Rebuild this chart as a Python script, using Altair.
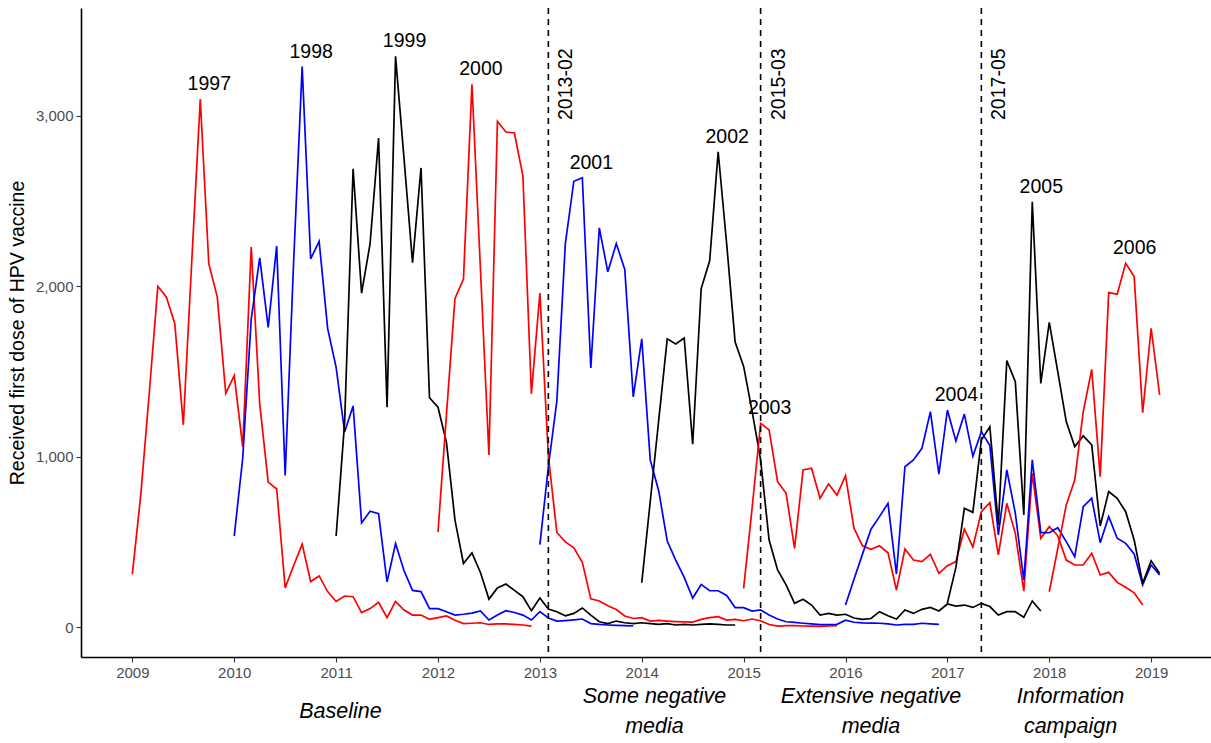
import altair as alt
import pandas as pd

# ---------------- data ----------------
cohorts = ["1997", "1998", "1999", "2000", "2001", "2002", "2003", "2004", "2005", "2006"]
start_years = [2009, 2010, 2011, 2012, 2013, 2014, 2015, 2016, 2017, 2018]
line_colors = ["#FF0000", "#0000FF", "#000000", "#FF0000", "#0000FF",
               "#000000", "#FF0000", "#0000FF", "#000000", "#FF0000"]

v1997 = [311, 780, 1380, 2000, 1938, 1781, 1187, 2150, 3100, 2133, 1938, 1372, 1476, 1057, 2231, 1310,
         851, 810, 230, 361, 487, 267, 300, 208, 150, 182, 178, 85, 108, 145, 55, 150, 100, 70, 70, 45,
         55, 65, 40, 20, 22, 25, 15, 18, 18, 15, 12, 5]
v1998 = [534, 992, 1807, 2167, 1759, 2237, 889, 2150, 3290, 2161, 2264, 1753, 1524, 1145, 1298, 611,
         680, 665, 265, 490, 330, 215, 208, 108, 108, 90, 70, 75, 82, 94, 41, 70, 96, 85, 70, 41, 90,
         53, 35, 38, 42, 47, 20, 15, 12, 10, 8, 6]
v1999 = [534, 1200, 2690, 1960, 2250, 2870, 1290, 3350, 2750, 2139, 2695, 1346, 1290, 1083, 628, 373,
         435, 320, 164, 229, 252, 215, 178, 96, 170, 106, 90, 66, 80, 112, 70, 31, 20, 35, 25, 20, 25,
         20, 15, 20, 12, 15, 12, 15, 18, 15, 12, 12]
v2000 = [558, 1250, 1929, 2043, 3186, 2100, 1010, 2969, 2906, 2900, 2648, 1369, 1960, 1004, 555, 500,
         465, 380, 165, 153, 125, 103, 65, 50, 55, 35, 39, 35, 32, 30, 29, 45, 55, 61, 41, 45, 37, 47,
         37, 15, 5, 8, 8, 6, 5, 4, 6, 8]
v2001 = [484, 941, 1327, 2251, 2617, 2637, 1521, 2343, 2085, 2251, 2099, 1351, 1692, 981, 799, 505,
         393, 291, 170, 250, 213, 213, 185, 114, 114, 94, 100, 70, 47, 31, 27, 22, 18, 14, 14, 16, 40,
         28, 24, 23, 22, 18, 12, 15, 16, 22, 18, 15]
v2002 = [260, 737, 1215, 1692, 1662, 1697, 1073, 1987, 2150, 2790, 2250, 1673, 1530, 1266, 981, 511,
         335, 247, 139, 163, 129, 70, 80, 70, 75, 53, 45, 50, 90, 66, 47, 100, 80, 104, 115, 94, 135,
         123, 129, 115, 139, 120, 70, 90, 90, 57, 153, 94]
v2003 = [227, 700, 1196, 1157, 853, 785, 462, 922, 932, 756, 840, 775, 888, 580, 477, 456, 477, 436,
         217, 458, 393, 384, 427, 315, 360, 384, 574, 470, 677, 730, 423, 726, 550, 211, 902, 521, 589,
         536, 393, 364, 364, 433, 305, 321, 262, 233, 201, 129]
v2004 = [129, 280, 428, 574, 648, 726, 311, 941, 981, 1049, 1264, 898, 1274, 1092, 1250, 1002, 1147,
         1066, 540, 922, 668, 276, 981, 554, 554, 583, 501, 413, 706, 756, 495, 648, 521, 491, 429, 247,
         364, 305]
v2005 = [140, 350, 697, 673, 1098, 1176, 599, 1564, 1440, 658, 2497, 1430, 1789, 1499, 1206, 1059, 1122,
         1069, 593, 795, 756, 677, 511, 257, 389, 315]
v2006 = [207, 460, 716, 863, 1264, 1513, 883, 1963, 1953, 2135, 2057, 1258, 1754, 1362]
series_values = [v1997, v1998, v1999, v2000, v2001, v2002, v2003, v2004, v2005, v2006]

change_labels = ["2013-02", "2015-03", "2017-05"]
change_years = [2013, 2015, 2017]
change_months = [2, 3, 5]

period_line1 = ["Baseline", "Some negative", "Extensive negative", "Information"]
period_line2 = ["", "media", "media", "campaign"]

year_ticks = [2009, 2010, 2011, 2012, 2013, 2014, 2015, 2016, 2017, 2018, 2019]
y_ticks = [0, 1000, 2000, 3000]

# ---------------- tables ----------------
rows = []
for c, sy, vals in zip(cohorts, start_years, series_values):
    for i, v in enumerate(vals):
        rows.append({"cohort": c, "t": sy + i / 12.0, "n": v})
df = pd.DataFrame(rows)

peaks = df.loc[df.groupby("cohort")["n"].idxmax()].reset_index(drop=True)

changes = pd.DataFrame({
    "label": change_labels,
    "t": [y + (m - 1) / 12.0 for y, m in zip(change_years, change_months)],
})

t_first = df["t"].min()
t_last = df["t"].max()
bounds = [t_first] + list(changes["t"]) + [t_last]
periods = pd.DataFrame({
    "line1": period_line1,
    "line2": period_line2,
    "t": [(bounds[i] + bounds[i + 1]) / 2 for i in range(4)],
})
periods["two"] = periods["line2"] != ""

# ---------------- scales ----------------
span = t_last - t_first
x_scale = alt.Scale(domain=[t_first - 0.05 * span, t_last + 0.05 * span], nice=False, zero=False)
y_scale = alt.Scale(domain=[-176, 3634], nice=False, zero=False)

FONT = "Liberation Sans"
W, H = 1130, 649

x_enc = alt.X("t:Q", scale=x_scale,
              axis=alt.Axis(values=year_ticks, format="d", title=None, grid=False,
                            labelFontSize=15, labelColor="#4D4D4D", labelFont=FONT,
                            tickColor="#333333", tickSize=5, tickWidth=1.1,
                            domainColor="#000000", domainWidth=1.6, labelPadding=3))
y_enc = alt.Y("n:Q", scale=y_scale,
              axis=alt.Axis(values=y_ticks, format=",d", grid=False,
                            title="Received first dose of HPV vaccine",
                            titleFontSize=19.5, titleFontWeight="normal", titleColor="#000000",
                            titleFont=FONT, titlePadding=8,
                            labelFontSize=15, labelColor="#4D4D4D", labelFont=FONT,
                            tickColor="#333333", tickSize=5, tickWidth=1.1,
                            domainColor="#000000", domainWidth=1.6, labelPadding=3))

lines = alt.Chart(df).mark_line(strokeWidth=1.7).encode(
    x=x_enc,
    y=y_enc,
    color=alt.Color("cohort:N", scale=alt.Scale(domain=cohorts, range=line_colors), legend=None),
    detail="cohort:N",
)

rules = alt.Chart(changes).mark_rule(color="#000000", strokeWidth=1.6, strokeDash=[6, 5]).encode(
    x=alt.X("t:Q", scale=x_scale),
)

rule_text = alt.Chart(changes).mark_text(
    angle=270, align="left", baseline="alphabetic", dx=-4, dy=24,
    fontSize=19.5, font=FONT, color="#000000"
).encode(
    x=alt.X("t:Q", scale=x_scale),
    y=alt.datum(3000, scale=y_scale),
    text="label:N",
)

peak_text = alt.Chart(peaks).mark_text(
    align="center", baseline="alphabetic", dx=9, dy=-9,
    fontSize=19.5, font=FONT, color="#000000"
).encode(
    x=alt.X("t:Q", scale=x_scale),
    y=alt.Y("n:Q", scale=y_scale),
    text="cohort:N",
)

period_style = dict(align="center", baseline="alphabetic", fontSize=21.5, font=FONT,
                    fontStyle="italic", color="#000000")

period_single = alt.Chart(periods).transform_filter("!datum.two").mark_text(**period_style).encode(
    x=alt.X("t:Q", scale=x_scale),
    y=alt.value(H + 61),
    text="line1:N",
)
period_first = alt.Chart(periods).transform_filter("datum.two").mark_text(**period_style).encode(
    x=alt.X("t:Q", scale=x_scale),
    y=alt.value(H + 46),
    text="line1:N",
)
period_second = alt.Chart(periods).transform_filter("datum.two").mark_text(**period_style).encode(
    x=alt.X("t:Q", scale=x_scale),
    y=alt.value(H + 76),
    text="line2:N",
)

chart = alt.layer(lines, rules, rule_text, peak_text, period_single, period_first, period_second).properties(
    width=W, height=H,
    autosize=alt.AutoSizeParams(type="none"),
    padding={"left": 81, "top": 8, "right": 0, "bottom": 86},
    background="#FFFFFF",
).configure_view(strokeWidth=0)

chart.save("out.html", embed_options={"renderer": "svg", "actions": False})
